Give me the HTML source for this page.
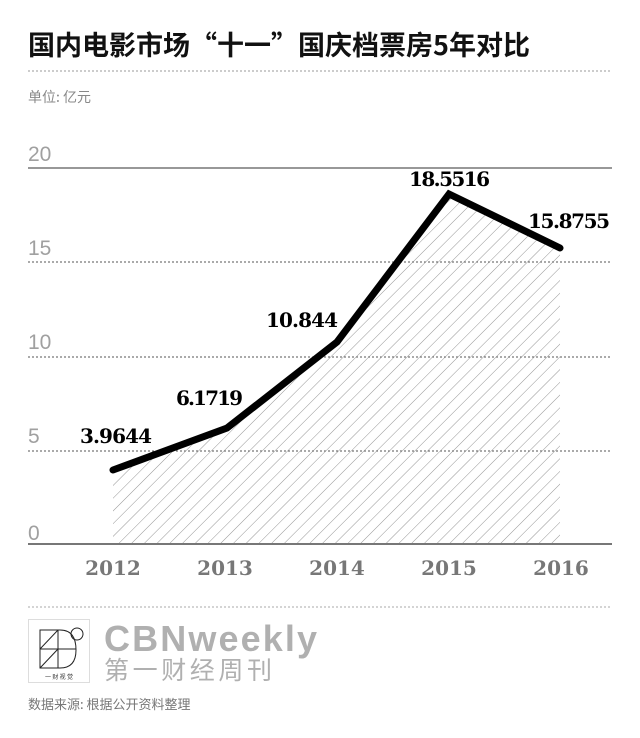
<!DOCTYPE html>
<html><head><meta charset="utf-8"><style>
html,body{margin:0;padding:0;background:#fff;}
body{width:640px;height:738px;overflow:hidden;position:relative;font-family:"Liberation Sans","Noto Sans CJK SC",sans-serif;}
</style></head><body>
<svg width="640" height="738" viewBox="0 0 640 738" xmlns="http://www.w3.org/2000/svg" style="position:absolute;left:0;top:0">
<defs>
<pattern id="h" patternUnits="userSpaceOnUse" width="9" height="9" patternTransform="rotate(45)">
<line x1="0" y1="0" x2="0" y2="9" stroke="#8a8a8a" stroke-width="0.9"/>
</pattern>
</defs>
<text x="28" y="55" font-family="Noto Sans CJK SC,sans-serif" font-weight="bold" font-size="27" fill="#111" textLength="502">国内电影市场“十一”国庆档票房5年对比</text>
<line x1="28" y1="71" x2="612" y2="71" stroke="#999" stroke-dasharray="2,2" stroke-width="1"/>
<text x="28" y="102" font-family="Noto Sans CJK SC,sans-serif" font-size="14" fill="#888">单位: 亿元</text>
<g font-family="Liberation Sans,sans-serif" font-size="21" fill="#a0a0a0">
<text x="28" y="161">20</text><text x="28" y="255">15</text><text x="28" y="349">10</text><text x="28" y="443">5</text><text x="28" y="540">0</text>
</g>
<line x1="28" y1="168" x2="612" y2="168" stroke="#777" stroke-width="1.5"/>
<g stroke="#555" stroke-dasharray="2,2" stroke-width="1">
<line x1="28" y1="262" x2="612" y2="262"/><line x1="28" y1="357" x2="612" y2="357"/><line x1="28" y1="451" x2="612" y2="451"/>
</g>
<polygon points="113,470 227,428 337,342 449,194 560,248 560,544 113,544" fill="url(#h)"/>
<line x1="28" y1="544" x2="612" y2="544" stroke="#777" stroke-width="2"/>
<polyline points="113,470 227,428 337,342 449,194 560,248" fill="none" stroke="#000" stroke-width="7" stroke-linejoin="miter" stroke-linecap="round"/>
<g font-family="DejaVu Serif,serif" font-weight="bold" font-size="20" fill="#000">
<text x="80" y="443" textLength="72">3.9644</text>
<text x="176" y="405" textLength="67">6.1719</text>
<text x="266" y="327" textLength="72">10.844</text>
<text x="409" y="186" textLength="81">18.5516</text>
<text x="528" y="228" textLength="82">15.8755</text>
</g>
<g font-family="DejaVu Serif,serif" font-weight="bold" font-size="20" fill="#777" text-anchor="middle">
<text x="113" y="575">2012</text><text x="225" y="575">2013</text><text x="337" y="575">2014</text><text x="449" y="575">2015</text><text x="561" y="575">2016</text>
</g>
<line x1="28" y1="607" x2="612" y2="607" stroke="#aaa" stroke-dasharray="2,2" stroke-width="1"/>
<rect x="28.5" y="619.5" width="61" height="63" fill="#fff" stroke="#ddd"/>
<g fill="none" stroke="#222" stroke-width="1">
<path d="M40,630 L60,630 Q76,630 76,650 Q76,668 60,668 L40,668 Z"/>
<line x1="40" y1="649" x2="76" y2="649"/><line x1="58" y1="630" x2="58" y2="668"/>
<line x1="40" y1="668" x2="58" y2="649"/><line x1="40" y1="649" x2="58" y2="630"/>
<circle cx="77" cy="634" r="6"/>
</g>
<text x="59" y="679" font-size="6" text-anchor="middle" fill="#333" font-family="Noto Sans CJK SC,sans-serif">一 财 视 觉</text>
<text x="104" y="651" font-family="Liberation Sans,sans-serif" font-weight="bold" font-size="36" fill="#b0b0b0" textLength="213">CBNweekly</text>
<text x="104" y="679" font-family="Noto Sans CJK SC,sans-serif" font-size="25" fill="#b0b0b0" textLength="168">第一财经周刊</text>
<text x="28" y="709" font-family="Noto Sans CJK SC,sans-serif" font-size="13" fill="#777">数据来源: 根据公开资料整理</text>
</svg>
</body></html>
